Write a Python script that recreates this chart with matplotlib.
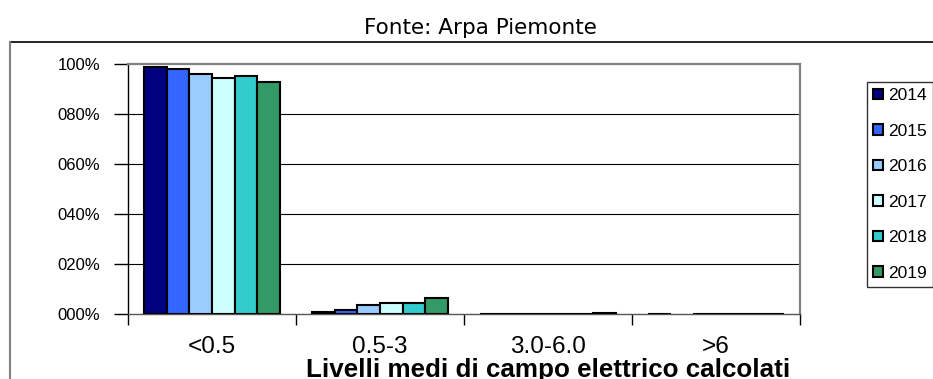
import matplotlib
matplotlib.use("Agg")
import matplotlib.pyplot as plt
import numpy as np
from matplotlib.lines import Line2D

# share of sites per electric-field class, by year (%)
categories = ["<0.5", "0.5-3", "3.0-6.0", ">6"]
years = ["2014", "2015", "2016", "2017", "2018", "2019"]
v2014 = [98.9, 0.8, 0.10, 0.05]
v2015 = [98.1, 1.5, 0.10, 0.0]
v2016 = [96.0, 3.6, 0.15, 0.05]
v2017 = [94.6, 4.4, 0.15, 0.05]
v2018 = [95.1, 4.4, 0.15, 0.05]
v2019 = [92.8, 6.6, 0.30, 0.05]
series = [v2014, v2015, v2016, v2017, v2018, v2019]
colors = ["#000080", "#3366ff", "#99ccff", "#ccffff", "#33cccc", "#339966"]
yticks = [0, 20, 40, 60, 80, 100]

W, H = 933, 379
fig = plt.figure(figsize=(W / 100, H / 100), dpi=100)
plt.rcParams["font.family"] = ["Liberation Sans", "DejaVu Sans"]

# plot area in pixel coordinates
x0, x1, ytop, ybot = 128, 800, 64, 314
ax = fig.add_axes([x0 / W, 1 - ybot / H, (x1 - x0) / W, (ybot - ytop) / H])

bw = 0.81 / len(years)
x = np.arange(len(categories))
handles = []
for i, (vals, c) in enumerate(zip(series, colors)):
    vals = np.array(vals)
    lw = np.where(vals > 0, 1.5, 0)
    b = ax.bar(x + (i - 2.5) * bw, vals, width=bw, color=c,
               edgecolor="black", linewidth=lw, zorder=3)
    handles.append(b)

ax.set_xlim(-0.5, len(categories) - 0.5)
ax.set_ylim(0, 100)

ax.set_yticks(yticks)
ax.set_yticklabels(["%03d%%" % t for t in yticks], fontsize=12)
ax.tick_params(axis="y", direction="out", length=10, width=1, pad=10)
for t in yticks[1:-1]:
    ax.axhline(t, color="black", linewidth=0.8, zorder=1)

ax.set_xticks(x)
ax.set_xticklabels(categories, fontsize=17.5)
ax.tick_params(axis="x", length=0, pad=16)
ax.set_xticks(np.arange(len(categories) + 1) - 0.5, minor=True)
ax.tick_params(axis="x", which="minor", direction="out", length=8, width=1)

for s in ["top", "right"]:
    ax.spines[s].set_color("#808080")
    ax.spines[s].set_linewidth(1.6)
ax.spines["left"].set_linewidth(1)
ax.spines["bottom"].set_linewidth(1)
ax.spines["bottom"].set_color("#555555")

leg = fig.legend(handles, years, loc="upper left",
                 bbox_to_anchor=(867 / W, 1 - 82 / H), fontsize=12.5,
                 frameon=True, fancybox=False, edgecolor="black",
                 handlelength=0.57, handleheight=0.57, handletextpad=0.28,
                 labelspacing=1.18, borderpad=0.35, borderaxespad=0)
leg.get_frame().set_linewidth(1)

fig.text(480 / W, 1 - 28 / H, "Fonte: Arpa Piemonte", ha="center", va="center",
         fontsize=15.5, family=["Liberation Sans Narrow", "DejaVu Sans"])
fig.text(548 / W, 1 - 358 / H, "Livelli medi di campo elettrico calcolati",
         ha="center", va="top", fontsize=18.7, fontweight="bold")

# outer frame lines
fig.add_artist(Line2D([10 / W, 1], [1 - 42 / H, 1 - 42 / H], color="black",
                      linewidth=1.2, transform=fig.transFigure))
fig.add_artist(Line2D([10 / W, 10 / W], [0, 1 - 42 / H], color="#808080",
                      linewidth=1.5, transform=fig.transFigure))

fig.savefig("out.png", dpi=100)
